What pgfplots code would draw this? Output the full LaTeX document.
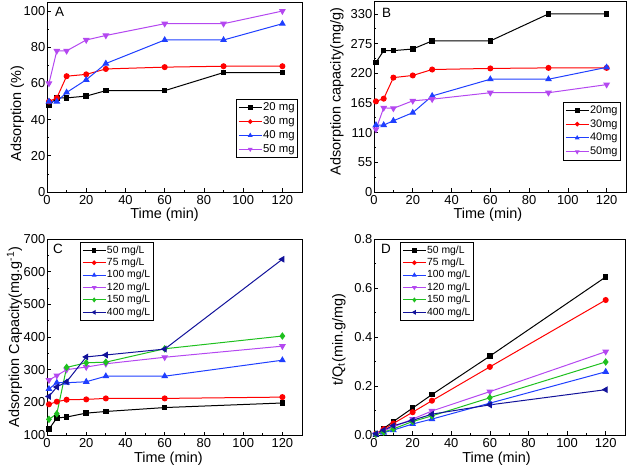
\documentclass[border=0pt]{standalone}
\usepackage{fontspec}
\setmainfont{Liberation Sans}
\usepackage{pgfplots}
\pgfplotsset{compat=1.18}
\definecolor{cblue}{HTML}{1F3FFF}
\definecolor{cviolet}{HTML}{B448F0}
\definecolor{cgreen}{HTML}{1FC01F}
\definecolor{cnavy}{HTML}{12129A}
\pgfplotsset{
  panel/.style={
    scale only axis, xmin=0, xmax=130, xtick={0,20,...,120},
    minor x tick num=1, minor y tick num=1,
    tick pos=left, tick align=inside,
    major tick length=3.5bp, minor tick length=2bp,
    axis line style={line width=0.8bp},
    every tick/.style={line width=0.7bp, black},
    tick label style={font=\fontsize{13}{15}\selectfont, inner sep=1.5bp},
    xticklabel style={yshift=-2bp},
    label style={font=\fontsize{14.5}{17}\selectfont},
    /pgf/number format/assume math mode=true,
    legend cell align=left,
    legend image code/.code={\draw[mark repeat=2,mark phase=2,mark size=1.8bp] plot coordinates {(0bp,0bp)(11.5bp,0bp)(23bp,0bp)};},
    every axis plot/.append style={line width=1bp},
  },
  s1/.style={black, mark=square*, mark size=2.3bp},
  s2/.style={red, mark=*, mark size=2.5bp},
  s3/.style={cblue, mark=triangle*, mark size=3bp},
  s4/.style={cviolet, mark=triangle*, mark options={rotate=180}, mark size=3bp},
  s5/.style={cgreen, mark=diamond*, mark size=3bp},
  s6/.style={cnavy, mark=triangle*, mark options={rotate=90}, mark size=3bp},
  legA/.style={legend style={draw=black, line width=0.6bp, font=\fontsize{11.4}{13}\selectfont, inner xsep=2bp, inner ysep=1.5bp, nodes={inner sep=0.9bp, text height=9bp, text depth=3bp}}},
  legC/.style={legend style={draw=black, line width=0.6bp, font=\fontsize{10.4}{12}\selectfont, inner xsep=2bp, inner ysep=1.5bp, nodes={inner sep=0.8bp, text height=8.2bp, text depth=2.6bp}}},
}
\begin{document}
\begin{tikzpicture}
% ---------------- A ----------------
\begin{axis}[panel, at={(47bp,278bp)}, anchor=south west, width=255bp, height=190bp,
  ymin=0, ymax=105, ytick={0,20,...,100},
  xlabel={Time (min)}, ylabel={Adsorption (\%)},
  xlabel style={at={(axis description cs:0.461,0)}, anchor=center, yshift=-23bp},
  ylabel style={at={(axis description cs:-0.116,0.413)}, anchor=center},
  legA, legend style={at={(0.984,0.489)}, anchor=north east}]
\addplot[s1] coordinates {(1,48)(5,52)(10,52)(20,53)(30,56)(60,56)(90,66)(120,66)};
\addplot[s2] coordinates {(1,50)(5,52)(10,64)(20,65)(30,68)(60,69)(90,69.5)(120,69.5)};
\addplot[s3] coordinates {(1,50)(5,50)(10,55)(20,62)(30,71)(60,84)(90,84)(120,93)};
\addplot[s4] coordinates {(1,60)(5,78)(10,78)(20,84)(30,86.5)(60,93)(90,93)(120,100)};
\legend{20 mg,30 mg,40 mg,50 mg}
\node[anchor=north west, inner sep=0, font=\fontsize{13.5}{15}\selectfont] at ([xshift=8bp,yshift=-5bp]rel axis cs:0,1) {A};
\end{axis}
% ---------------- B ----------------
\begin{axis}[panel, at={(374bp,278bp)}, anchor=south west, width=252bp, height=191bp,
  ymin=0, ymax=354, ytick={0,55,...,330},
  xlabel={Time (min)}, ylabel={Adsorption capacity(mg/g)},
  xlabel style={at={(axis description cs:0.452,0)}, anchor=center, yshift=-23bp},
  ylabel style={at={(axis description cs:-0.147,0.525)}, anchor=center},
  legA, legend style={at={(0.979,0.473)}, anchor=north east, font=\fontsize{11}{13}\selectfont}]
\addplot[s1] coordinates {(1,240)(5,262)(10,262)(20,265)(30,280)(60,280)(90,330)(120,330)};
\addplot[s2] coordinates {(1,168)(5,173)(10,212)(20,216)(30,227)(60,229)(90,230)(120,230)};
\addplot[s3] coordinates {(1,124)(5,124)(10,132)(20,147)(30,178)(60,209)(90,209)(120,231)};
\addplot[s4] coordinates {(1,116)(5,156)(10,155)(20,169)(30,172)(60,184)(90,184)(120,199)};
\legend{20mg,30mg,40mg,50mg}
\node[anchor=north west, inner sep=0, font=\fontsize{13.5}{15}\selectfont] at ([xshift=8bp,yshift=-7bp]rel axis cs:0,1) {B};
\end{axis}
% ---------------- C ----------------
\begin{axis}[panel, at={(47bp,35bp)}, anchor=south west, width=255bp, height=196bp,
  ymin=100, ymax=700, ytick={100,200,...,700},
  xlabel={Time (min)}, ylabel={Adsorption Capacity(mg.g\textsuperscript{-1})},
  xlabel style={at={(axis description cs:0.476,0)}, anchor=center, yshift=-24bp},
  ylabel style={at={(axis description cs:-0.127,0.5)}, anchor=center},
  legC, legend style={at={(0.129,0.983)}, anchor=north west}]
\addplot[s1] coordinates {(1,118)(5,152)(10,155)(20,167)(30,172)(60,184)(120,198)};
\addplot[s2] coordinates {(1,194)(5,202)(10,208)(20,209)(30,212)(60,212)(120,216)};
\addplot[s3] coordinates {(1,241)(5,260)(10,260)(20,263)(30,280)(60,280)(120,329)};
\addplot[s4] coordinates {(1,268)(5,282)(10,300)(20,308)(30,318)(60,338)(120,372)};
\addplot[s5] coordinates {(1,148)(5,165)(10,307)(20,321)(30,323)(60,364)(120,403)};
\addplot[s6] coordinates {(1,218)(5,247)(10,263)(20,339)(30,345)(60,363)(120,638)};
\legend{50 mg/L,75 mg/L,100 mg/L,120 mg/L,150 mg/L,400 mg/L}
\node[anchor=north west, inner sep=0, font=\fontsize{13.5}{15}\selectfont] at ([xshift=6bp,yshift=-5bp]rel axis cs:0,1) {C};
\end{axis}
% ---------------- D ----------------
\begin{axis}[panel, at={(374bp,35bp)}, anchor=south west, width=251bp, height=196bp,
  ymin=0, ymax=0.8, ytick={0,0.2,...,0.8},
  yticklabel style={/pgf/number format/.cd, fixed, fixed zerofill, precision=1},
  xlabel={Time (min)}, ylabel={t/Q\textsubscript{t}(min.g/mg)},
  xlabel style={at={(axis description cs:0.488,0)}, anchor=center, yshift=-24bp},
  ylabel style={at={(axis description cs:-0.14,0.487)}, anchor=center},
  legC, legend style={at={(0.104,0.983)}, anchor=north west}]
\addplot[s1] coordinates {(1,0.002)(5,0.027)(10,0.055)(20,0.110)(30,0.165)(60,0.322)(120,0.645)};
\addplot[s2] coordinates {(1,0.005)(5,0.024)(10,0.047)(20,0.093)(30,0.140)(60,0.278)(120,0.551)};
\addplot[s3] coordinates {(1,0.003)(5,0.010)(10,0.020)(20,0.045)(30,0.065)(60,0.130)(120,0.258)};
\addplot[s4] coordinates {(1,0.004)(5,0.017)(10,0.033)(20,0.065)(30,0.098)(60,0.177)(120,0.340)};
\addplot[s5] coordinates {(1,0.003)(5,0.012)(10,0.025)(20,0.055)(30,0.078)(60,0.152)(120,0.298)};
\addplot[s6] coordinates {(1,0.005)(5,0.020)(10,0.038)(20,0.060)(30,0.085)(60,0.123)(120,0.185)};
\legend{50 mg/L,75 mg/L,100 mg/L,120 mg/L,150 mg/L,400 mg/L}
\node[anchor=north west, inner sep=0, font=\fontsize{13.5}{15}\selectfont] at ([xshift=7bp,yshift=-5bp]rel axis cs:0,1) {D};
\end{axis}
\pgfresetboundingbox
\useasboundingbox (0,0) rectangle (628bp,470bp);
\end{tikzpicture}
\end{document}
